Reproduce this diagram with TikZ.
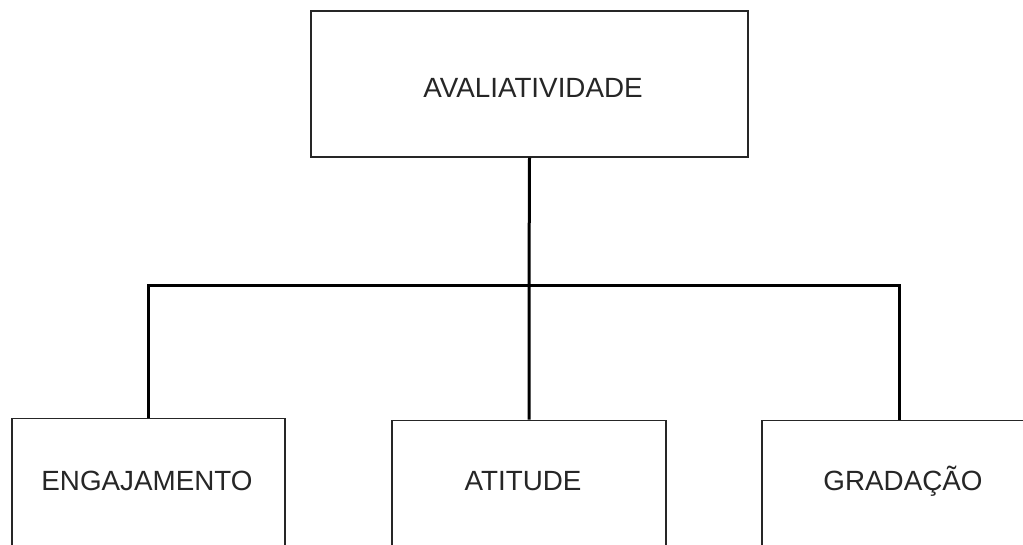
\documentclass[tikz,border=0pt]{standalone}
\usepackage{fontspec}
\setmainfont{Liberation Sans}
\begin{document}
\begin{tikzpicture}[x=1pt,y=-1pt,
  box/.style={draw=black!85, line width=1.3pt, fill=none, inner sep=0pt},
  lbl/.style={font=\fontsize{27.8}{31}\selectfont, text=black!85, inner sep=0pt},
  conn/.style={draw=black, line width=3pt}]
\clip (0,0) rectangle (1023,544);
\fill[white] (0,0) rectangle (1023,544);
\node[box, minimum width=437pt, minimum height=146pt] (top) at (529.5,84) {};
\node[lbl] (toplbl) at (533,88) {AVALIATIVIDADE};
\node[box, anchor=north, minimum width=273pt, minimum height=170pt] (eng) at (148.5,417.5) {};
\node[lbl] (englbl) at (147,481) {ENGAJAMENTO};
\node[box, anchor=north, minimum width=274pt, minimum height=170pt] (ati) at (529,419.5) {};
\node[lbl] (atilbl) at (523,481) {ATITUDE};
\node[box, anchor=north, minimum width=274pt, minimum height=170pt] (grad) at (899,419.5) {};
\node[lbl] (gradlbl) at (903,481) {GRADAÇÃO};
\coordinate (j) at (529,285);
\draw[conn] (top.south) -- (j) -- (ati.north);
\draw[conn] (eng.north) |- (j) -| (grad.north);
\end{tikzpicture}
\end{document}
